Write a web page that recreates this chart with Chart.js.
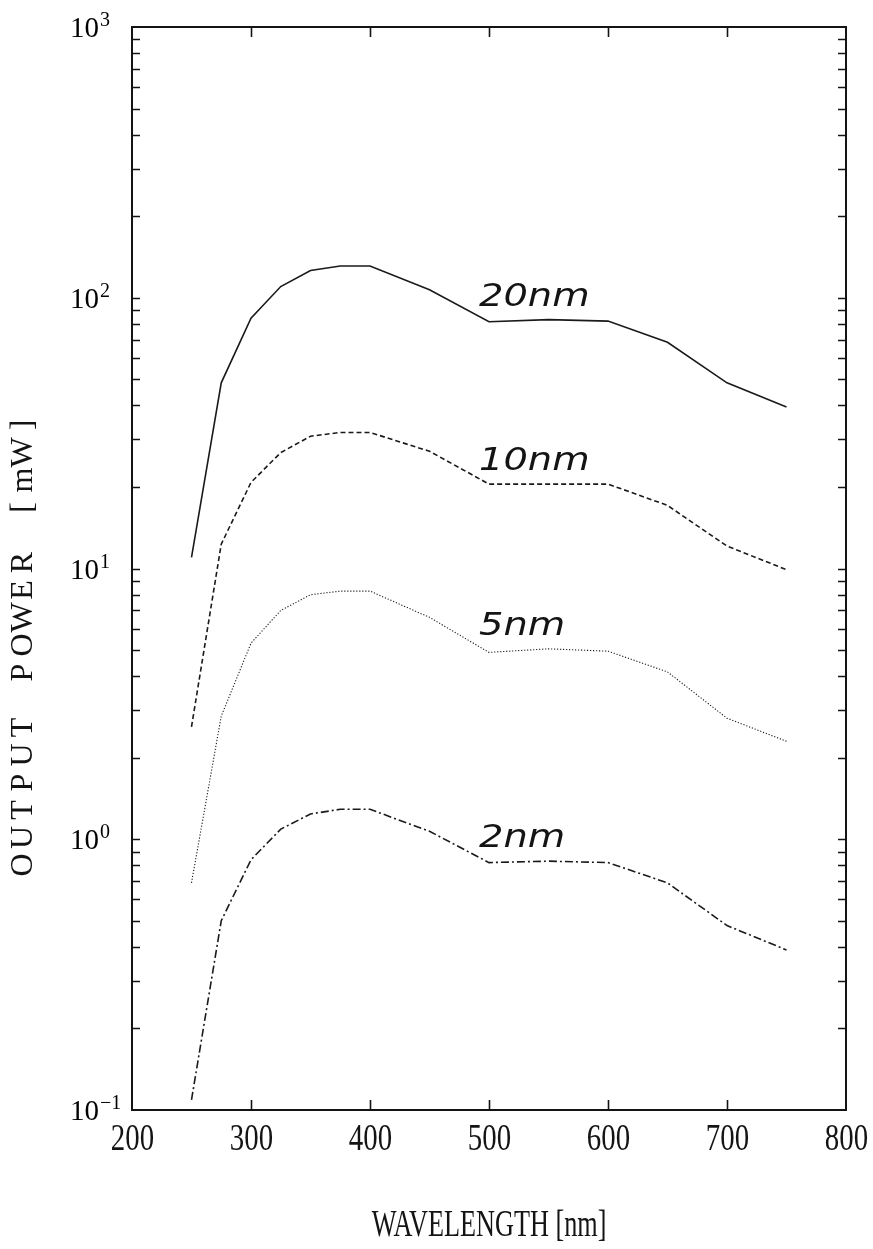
<!DOCTYPE html>
<html>
<head>
<meta charset="utf-8">
<script src="https://cdn.jsdelivr.net/npm/chart.js@4.4.1/dist/chart.umd.min.js"></script>
<style>
  html, body { margin: 0; padding: 0; background: #ffffff; }
  #wrap { width: 873px; height: 1249px; position: relative; }
</style>
</head>
<body>
<div id="wrap"><canvas id="c" width="873" height="1249"></canvas></div>
<script>
// ---- data ----
const wavelengths = [250, 275, 300, 325, 350, 375, 400, 450, 500, 550, 600, 650, 700, 750];
const power20nm = [11.0, 48.5, 84, 110, 126, 131, 131, 107, 81.5, 83, 82, 68.5, 48.5, 39.5];
const power10nm = [2.6, 12.3, 20.8, 26.8, 30.8, 31.8, 31.8, 27.1, 20.5, 20.5, 20.5, 17.1, 12.1, 9.9];
const power5nm  = [0.69, 2.85, 5.3, 7.0, 8.0, 8.25, 8.25, 6.6, 4.9, 5.05, 4.95, 4.15, 2.8, 2.3];
const power2nm  = [0.109, 0.5, 0.84, 1.09, 1.24, 1.29, 1.29, 1.07, 0.82, 0.83, 0.82, 0.69, 0.48, 0.39];
const seriesNames = ['20nm', '10nm', '5nm', '2nm'];
const xTickLabels = [200, 300, 400, 500, 600, 700, 800];
const yDecadeExponents = [-1, 0, 1, 2, 3];
const xAxisTitle = 'WAVELENGTH [nm]';
const yAxisTitle = 'OUTPUT POWER [mW]';

const seriesValues = [power20nm, power10nm, power5nm, power2nm];
const dashStyles = [[], [5, 3], [1.2, 1.8], [8, 3, 2, 3]];
const lineWidths = [1.6, 1.6, 1.1, 1.6];

function toPoints(vals) { return wavelengths.map((w, i) => ({ x: w, y: vals[i] })); }

const datasets = seriesValues.map((vals, i) => ({
  label: seriesNames[i],
  data: toPoints(vals),
  borderColor: '#1a1a1a',
  borderWidth: lineWidths[i],
  borderDash: dashStyles[i],
  pointRadius: 0,
  tension: 0,
  fill: false
}));

const ink = '#141414';

function condensedText(ctx, text, x, y, font, sx, align) {
  ctx.save();
  ctx.translate(x, y);
  ctx.scale(sx, 1);
  ctx.font = font;
  ctx.textAlign = align;
  ctx.textBaseline = 'middle';
  ctx.fillText(text, 0, 0);
  ctx.restore();
}

const framePlugin = {
  id: 'frame',
  afterDraw(chart) {
    const ctx = chart.ctx;
    const a = chart.chartArea;
    const xs = chart.scales.x, ys = chart.scales.y;
    ctx.save();
    ctx.strokeStyle = ink;
    ctx.fillStyle = ink;
    // frame
    ctx.lineWidth = 2;
    ctx.strokeRect(a.left, a.top, a.right - a.left, a.bottom - a.top);
    // x ticks (bottom and top, inward)
    ctx.lineWidth = 1.6;
    xTickLabels.forEach(v => {
      const px = Math.round(xs.getPixelForValue(v)) + 0.5;
      if (v > xs.min && v < xs.max) {
        ctx.beginPath();
        ctx.moveTo(px, a.bottom); ctx.lineTo(px, a.bottom - 10);
        ctx.moveTo(px, a.top); ctx.lineTo(px, a.top + 10);
        ctx.stroke();
      }
      condensedText(ctx, String(v), px, a.bottom + 30, '38px "Liberation Serif"', 0.76, 'center');
    });
    // y ticks (left and right, inward), decades + minor
    yDecadeExponents.forEach(e => {
      for (let m = 1; m <= 9; m++) {
        const v = m * Math.pow(10, e);
        if (v <= ys.min * 1.0001 || v >= ys.max * 0.9999) continue;
        const py = Math.round(ys.getPixelForValue(v)) + 0.5;
        ctx.beginPath();
        ctx.moveTo(a.left, py); ctx.lineTo(a.left + 8, py);
        ctx.moveTo(a.right, py); ctx.lineTo(a.right - 8, py);
        ctx.stroke();
      }
    });
    // y labels 10^e
    ctx.fillStyle = '#000';
    yDecadeExponents.forEach(e => {
      const py = ys.getPixelForValue(Math.pow(10, e));
      ctx.font = '29px "Liberation Serif"';
      ctx.textAlign = 'left';
      ctx.textBaseline = 'alphabetic';
      const base = py + 10;
      ctx.fillText('10', 70, base);
      const w = ctx.measureText('10').width;
      ctx.font = '20px "Liberation Serif"';
      ctx.fillText(e < 0 ? '\u2212' + Math.abs(e) : String(e), 70 + w + 1, base - 11);
    });
    ctx.fillStyle = ink;
    // x axis title
    condensedText(ctx, xAxisTitle, (a.left + a.right) / 2, 1226, '38px "Liberation Serif"', 0.69, 'center');
    // y axis title, monospaced emulation
    ctx.save();
    ctx.translate(24, 645);
    ctx.rotate(-Math.PI / 2);
    ctx.font = '32px "Liberation Serif"';
    ctx.textAlign = 'center';
    ctx.textBaseline = 'middle';
    const adv = 27.5;
    const total = adv * yAxisTitle.length;
    for (let i = 0; i < yAxisTitle.length; i++) {
      ctx.fillText(yAxisTitle[i], -total / 2 + adv * (i + 0.5), 0);
    }
    ctx.restore();
    // handwritten-style series labels, anchored to each curve near 550 nm
    const lx = xs.getPixelForValue(500) - 10;
    seriesValues.forEach((vals, i) => {
      const py = ys.getPixelForValue(vals[wavelengths.indexOf(550)]) - 14;
      ctx.save();
      ctx.translate(lx, py);
      ctx.scale(1.2, 1);
      ctx.font = 'italic 200 32px "DejaVu Sans", "Liberation Sans"';
      ctx.textAlign = 'left';
      ctx.textBaseline = 'alphabetic';
      ctx.fillText(seriesNames[i], 0, 0);
      ctx.restore();
    });
    ctx.restore();
  }
};

new Chart(document.getElementById('c'), {
  type: 'line',
  data: { datasets },
  options: {
    responsive: false,
    animation: false,
    devicePixelRatio: 1,
    layout: { padding: { left: 132, right: 27, top: 27, bottom: 139 } },
    plugins: { legend: { display: false }, tooltip: { enabled: false }, title: { display: false } },
    scales: {
      x: { type: 'linear', min: 200, max: 800, display: false },
      y: { type: 'logarithmic', min: 0.1, max: 1000, display: false }
    }
  },
  plugins: [framePlugin]
});
</script>
</body>
</html>
